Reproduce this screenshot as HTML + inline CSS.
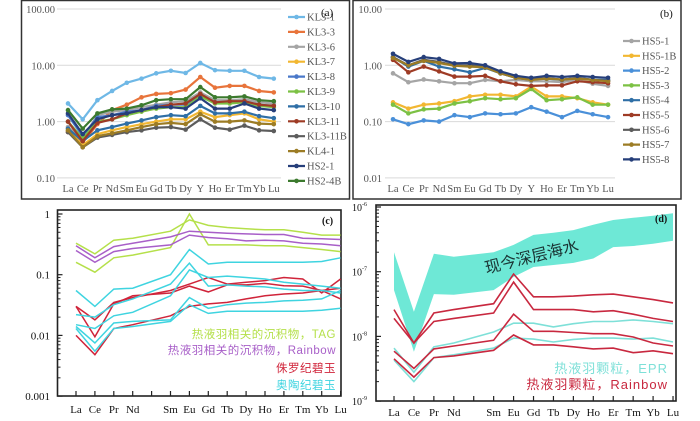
<!DOCTYPE html>
<html><head><meta charset="utf-8"><style>
html,body{margin:0;padding:0;background:#fff;}
svg{display:block;font-family:"Liberation Serif","Noto Serif CJK SC",serif;}
.cn{font-family:"Liberation Sans","Noto Sans CJK SC",sans-serif;}
</style></head><body>
<svg id="fig" width="700" height="421" viewBox="0 0 700 421" xmlns="http://www.w3.org/2000/svg">
<rect x="21.5" y="0.5" width="328" height="198.5" fill="#fff" stroke="#333" stroke-width="1.5"/>
<rect x="353" y="0.5" width="328" height="198.5" fill="#fff" stroke="#333" stroke-width="1.5"/>
<g id="pa"></g>
<g id="pb"></g>
<g id="pc"></g>
<g id="pd"></g>
</svg>
<script>
// ---------- data ----------
const catsAB = ["La","Ce","Pr","Nd","Sm","Eu","Gd","Tb","Dy","Y","Ho","Er","Tm","Yb","Lu"];
const ticksA = ["100.00","10.00","1.00","0.10"];
const ticksB = ["10.00","1.00","0.10","0.01"];
const namesA = ["KL3-1","KL3-3","KL3-6","KL3-7","KL3-8","KL3-9","KL3-10","KL3-11","KL3-11B","KL4-1","HS2-1","HS2-4B"];
const colorsA = ["#6fb8e6","#e8743b","#a5a5a5","#f2b731","#4a78c9","#7cc144","#2f6fa6","#9e3b25","#5c5c5c","#9c7c25","#263f7a","#3c7a2e"];
const kl31 = [2.1,1.1,2.4,3.5,4.9,5.8,7.2,8.0,7.3,11,8.2,8.0,8.0,6.2,5.8];
const kl33 = [0.65,0.42,0.9,1.6,2.0,2.7,3.1,3.2,3.7,6.2,4.0,4.3,4.3,3.5,3.3];
const kl36 = [0.8,0.5,1.3,1.5,1.6,1.8,2.0,2.2,2.3,3.3,2.4,2.4,2.5,2.2,2.1];
const kl37 = [0.7,0.38,0.6,0.7,0.8,0.9,1.0,1.1,1.1,1.5,1.2,1.3,1.4,1.1,1.0];
const kl38 = [1.3,0.55,1.2,1.3,1.5,1.6,1.9,2.0,2.0,3.0,2.2,2.2,2.3,2.0,1.9];
const kl39 = [1.0,0.5,1.0,1.1,1.3,1.5,1.7,1.8,1.8,2.8,2.1,2.1,2.2,1.9,1.8];
const kl310 = [0.75,0.45,0.7,0.8,0.92,1.05,1.2,1.3,1.25,1.9,1.4,1.4,1.5,1.25,1.15];
const kl311 = [1.0,0.45,0.95,1.1,1.4,1.6,1.8,2.0,2.1,3.1,2.2,2.3,2.3,2.0,1.9];
const kl311b = [0.65,0.35,0.52,0.58,0.65,0.7,0.78,0.8,0.72,1.1,0.78,0.72,0.85,0.7,0.68];
const kl41 = [0.7,0.35,0.55,0.62,0.7,0.8,0.9,0.95,0.9,1.35,1.0,1.0,1.05,0.92,0.9];
const hs21 = [1.4,0.6,1.1,1.3,1.4,1.6,1.8,1.8,1.7,2.6,1.7,1.7,2.1,1.7,1.6];
const hs24b = [1.6,0.75,1.4,1.65,1.7,1.95,2.4,2.5,2.5,4.1,2.7,2.7,2.8,2.4,2.3];
const seriesA = [kl31,kl33,kl36,kl37,kl38,kl39,kl310,kl311,kl311b,kl41,hs21,hs24b];

const namesB = ["HS5-1","HS5-1B","HS5-2","HS5-3","HS5-4","HS5-5","HS5-6","HS5-7","HS5-8"];
const colorsB = ["#a5a5a5","#f2b731","#4a90d9","#7cc144","#2f6fa6","#9e3b25","#5c5c5c","#9c7c25","#263f7a"];
const hs51 = [0.72,0.5,0.56,0.52,0.48,0.48,0.55,0.52,0.55,0.52,0.52,0.5,0.55,0.47,0.43];
const hs51b = [0.22,0.17,0.2,0.21,0.23,0.28,0.3,0.3,0.28,0.42,0.28,0.28,0.26,0.22,0.2];
const hs52 = [0.11,0.09,0.105,0.1,0.13,0.12,0.14,0.135,0.14,0.18,0.15,0.12,0.155,0.135,0.12];
const hs53 = [0.2,0.14,0.165,0.17,0.21,0.23,0.26,0.25,0.26,0.38,0.24,0.25,0.27,0.2,0.2];
const hs54 = [1.4,0.95,1.2,0.95,0.85,0.75,0.9,0.72,0.6,0.58,0.58,0.55,0.6,0.55,0.55];
const hs55 = [1.25,0.75,0.95,0.78,0.63,0.63,0.65,0.52,0.46,0.43,0.44,0.44,0.52,0.5,0.48];
const hs56 = [1.4,1.0,1.25,1.15,1.0,1.0,0.95,0.72,0.6,0.55,0.6,0.55,0.6,0.55,0.53];
const hs57 = [1.35,1.0,1.2,1.1,0.98,0.95,0.92,0.72,0.6,0.55,0.58,0.56,0.58,0.55,0.52];
const hs58 = [1.6,1.15,1.4,1.3,1.08,1.1,1.0,0.78,0.65,0.6,0.65,0.62,0.65,0.62,0.6];
const seriesB = [hs51,hs51b,hs52,hs53,hs54,hs55,hs56,hs57,hs58];

// panels c/d: 15 slots, Pm (index 4) empty
const catsCD = ["La","Ce","Pr","Nd","","Sm","Eu","Gd","Tb","Dy","Ho","Er","Tm","Yb","Lu"];
const ticksC = ["1","0.1","0.01","0.001"];
const tagA = [0.33,0.22,0.37,0.4,null,0.52,0.8,0.65,0.6,0.57,0.55,0.55,0.5,0.45,0.45];
const tagB = [0.16,0.11,0.19,0.21,null,0.28,1.0,0.31,0.31,0.31,0.3,0.3,0.28,0.26,0.24];
const rbA = [0.3,0.19,0.29,0.33,null,0.42,0.52,0.5,0.48,0.47,0.46,0.46,0.4,0.39,0.38];
const rbB = [0.25,0.16,0.24,0.27,null,0.31,0.45,0.41,0.39,0.36,0.37,0.36,0.33,0.32,0.3];
const juA = [0.03,0.018,0.035,0.042,null,0.055,0.07,0.09,0.07,0.075,0.08,0.09,0.085,0.05,0.085];
const juB = [0.03,0.0095,0.033,0.045,null,0.05,0.065,0.052,0.068,0.068,0.072,0.066,0.065,0.055,0.04];
const juC = [0.01,0.0048,0.013,0.015,null,0.021,0.03,0.033,0.035,0.04,0.045,0.048,0.05,0.055,0.06];
const orA = [0.055,0.03,0.058,0.06,null,0.1,0.26,0.15,0.16,0.16,0.16,0.16,0.16,0.165,0.19];
const orB = [0.022,0.02,0.032,0.04,null,0.07,0.155,0.065,0.068,0.065,0.063,0.058,0.055,0.055,0.05];
const orC = [0.015,0.013,0.021,0.024,null,0.045,0.12,0.09,0.095,0.09,0.085,0.075,0.07,0.065,0.06];
const orD = [0.014,0.0075,0.016,0.017,null,0.018,0.042,0.028,0.032,0.034,0.035,0.037,0.038,0.04,0.055];
const orE = [0.013,0.0055,0.013,0.014,null,0.017,0.032,0.023,0.025,0.025,0.025,0.025,0.025,0.026,0.028];

const ticksD = ["-6","-7","-8","-9"];
const swUpper = [2e-7,2.4e-8,1.9e-7,1.7e-7,null,2e-7,2.6e-7,3.7e-7,4e-7,4.4e-7,5.3e-7,6.3e-7,6.8e-7,7.3e-7,8e-7];
const swLower = [5.2e-8,5.8e-9,4.5e-8,4.4e-8,null,5.2e-8,8.3e-8,1.18e-7,1.27e-7,1.37e-7,1.6e-7,2.4e-7,2.5e-7,2.7e-7,3e-7];
const rpA = [2.6e-8,7.9e-9,2.3e-8,2.6e-8,null,3.2e-8,9.2e-8,4.1e-8,4.1e-8,4.2e-8,4.4e-8,4.5e-8,4.1e-8,3.7e-8,3.3e-8];
const rpB = [1.9e-8,7.9e-9,1.7e-8,1.9e-8,null,2.3e-8,6.9e-8,2.6e-8,2.6e-8,2.6e-8,2.4e-8,2.5e-8,2.2e-8,1.9e-8,1.7e-8];
const rpC = [5.9e-9,3.2e-9,6.4e-9,7.1e-9,null,8.7e-9,2.2e-8,1.2e-8,1.2e-8,1.15e-8,1.1e-8,1.1e-8,9.8e-9,7.9e-9,7.1e-9];
const rpD = [4.5e-9,2.35e-9,4.7e-9,5e-9,null,6.1e-9,1.05e-8,7.4e-9,7.4e-9,6.9e-9,6.4e-9,6.6e-9,5.6e-9,6e-9,5.4e-9];
const epA = [6.6e-9,2.8e-9,6.9e-9,7.9e-9,null,1.17e-8,1.6e-8,1.6e-8,1.4e-8,1.57e-8,1.7e-8,1.7e-8,1.8e-8,1.7e-8,1.57e-8];
const epB = [4.3e-9,2e-9,4.7e-9,5.2e-9,null,6.6e-9,9.4e-9,9.1e-9,8.2e-9,9e-9,9.4e-9,9.4e-9,9.1e-9,9.4e-9,8.2e-9];

// ---------- helpers ----------
const NS = "http://www.w3.org/2000/svg";
function mk(parent, tag, attrs, text){
  const e = document.createElementNS(NS, tag);
  for (const k in attrs) e.setAttribute(k, attrs[k]);
  if (text !== undefined) e.textContent = text;
  parent.appendChild(e);
  return e;
}
function logScale(topVal, yTop, pxPerDec){ return v => yTop + (Math.log10(topVal) - Math.log10(v)) * pxPerDec; }
function linX(x0, step){ return i => x0 + i*step; }
function pathFrom(vals, X, Y){
  let d = "", pen = false;
  vals.forEach((v,i)=>{ if (v==null) return; d += (pen?"L":"M") + X(i).toFixed(1) + "," + Y(v).toFixed(1); pen = true; });
  return d;
}

// ---------- panel a / b ----------
function drawAB(g, cats, ticks, topVal, names, colors, series, cfg){
  const Y = logScale(topVal, cfg.yTop, cfg.dec);
  const X = linX(cfg.x0, cfg.step);
  ticks.forEach((t,i)=>{
    const y = cfg.yTop + i*cfg.dec;
    const gl = mk(g,"line",{x1:cfg.gx0,x2:cfg.gx1,y1:y,y2:y,stroke:"#d9d9d9","stroke-width":1});
    
    
    const tl = mk(g,"text",{x:cfg.tickX,y:y+4,"text-anchor":"end","font-size":10.5,fill:"#555"},t);
    
    
  });
  cats.forEach((c,i)=>{
    const t = mk(g,"text",{x:X(i),y:cfg.catY,"text-anchor":"middle","font-size":10.5,fill:"#555"},c);
    
    
  });
  series.forEach((s,k)=>{
    const p = mk(g,"path",{d:pathFrom(s,X,Y),fill:"none",stroke:colors[k],"stroke-width":2.2});
    
    
    s.forEach((v,i)=>{
      const c = mk(g,"circle",{cx:X(i),cy:Y(v),r:2.3,fill:colors[k]});
      
      
    });
    const ly = cfg.legY + k*cfg.legStep;
    const lg = mk(g,"g",{});
    
    
    mk(lg,"line",{x1:cfg.legX,x2:cfg.legX+17,y1:ly,y2:ly,stroke:colors[k],"stroke-width":2.2});
    mk(lg,"circle",{cx:cfg.legX+8.5,cy:ly,r:2.3,fill:colors[k]});
    mk(lg,"text",{x:cfg.legX+19,y:ly+3.5,"font-size":10.5,fill:"#555"},names[k]);
  });
  const lab = mk(g,"text",{x:cfg.labX,y:cfg.labY,"font-size":11,fill:"#111"},cfg.label);
  
  
}
drawAB(document.getElementById("pa"), catsAB, ticksA, 100, namesA, colorsA, seriesA,
  {yTop:9,dec:56.3,x0:68,step:14.7,gx0:57,gx1:281,tickX:55,catY:192,legX:288,legY:17,legStep:14.9,labX:321,labY:16,label:"(a)"});
drawAB(document.getElementById("pb"), catsAB, ticksB, 10, namesB, colorsB, seriesB,
  {yTop:9,dec:56.3,x0:393,step:15.36,gx0:385,gx1:615,tickX:382,catY:192,legX:623,legY:41,legStep:14.8,labX:660,labY:17,label:"(b)"});

// ---------- panel c ----------
(function(){
  const g = document.getElementById("pc");
  const left=57.5,right=341,top=210,bot=396;
  const Y = logScale(1, 214, 60.7);
  const X = linX(76, 18.9);
  const fr = mk(g,"rect",{x:left,y:top,width:right-left,height:bot-top,fill:"none",stroke:"#222","stroke-width":1.6});
  
  
  ticksC.forEach((t,i)=>{
    const v = parseFloat(t);
    const tl = mk(g,"text",{x:50,y:Y(v)+4,"text-anchor":"end","font-size":11,fill:"#111"},t);
    
    
    mk(g,"line",{x1:left,x2:left+5,y1:Y(v),y2:Y(v),stroke:"#222","stroke-width":1.2});
    if (i<3) for (let m=2;m<10;m++){ const yy=Y(v/10*m); mk(g,"line",{x1:left,x2:left+3,y1:yy,y2:yy,stroke:"#222","stroke-width":1}); }
  });
  catsCD.forEach((c,i)=>{
    mk(g,"line",{x1:X(i),x2:X(i),y1:bot,y2:bot-5,stroke:"#222","stroke-width":1.2});
    if (c){ const t = mk(g,"text",{x:X(i),y:413,"text-anchor":"middle","font-size":11,fill:"#111"},c);
      
       }
  });
  const groups = [[tagA,"#b5e04a"],[tagB,"#b5e04a"],[rbA,"#a85fc8"],[rbB,"#a85fc8"],[juA,"#d0243a"],[juB,"#d0243a"],[juC,"#d0243a"],[orA,"#3fd4e0"],[orB,"#3fd4e0"],[orC,"#3fd4e0"],[orD,"#3fd4e0"],[orE,"#3fd4e0"]];
  groups.forEach(([s,col])=>{
    const p = mk(g,"path",{d:pathFrom(s,X,Y),fill:"none",stroke:col,"stroke-width":1.5});
    
    
  });
  const labs = [["热液羽相关的沉积物，TAG","#b5e04a",338],["热液羽相关的沉积物，Rainbow","#a85fc8",354],["侏罗纪碧玉","#d0243a",372],["奥陶纪碧玉","#3fd4e0",389]];
  labs.forEach(([t,c,y])=>{
    const e = mk(g,"text",{x:336,y:y,"text-anchor":"end","font-size":11.5,fill:c,"class":"cn","letter-spacing":"0.5"},t);
    
    
  });
  const lab = mk(g,"text",{x:322,y:224,"font-size":10,fill:"#111","font-weight":"bold"},"(c)");
  
  
})();

// ---------- panel d ----------
(function(){
  const g = document.getElementById("pd");
  const left=376,right=676,top=205,bot=401;
  const Y = logScale(1e-6, 207, 64.7);
  const X = linX(394, 19.93);
  let d = "";
  const idx = swUpper.map((v,i)=>v==null?null:i).filter(i=>i!=null);
  idx.forEach((i,k)=>{ d += (k?"L":"M") + X(i).toFixed(1)+","+Y(swUpper[i]).toFixed(1); });
  idx.slice().reverse().forEach(i=>{ d += "L" + X(i).toFixed(1)+","+Y(swLower[i]).toFixed(1); });
  const band = mk(g,"path",{d:d+"Z",fill:"#6ee8d6"});
  
  
  const bt = mk(g,"text",{x:0,y:0,"font-size":16,fill:"#1a3434","class":"cn","text-anchor":"middle",transform:"translate(533,262) rotate(-14)"},"现今深层海水");
  
  
  const fr = mk(g,"rect",{x:left,y:top,width:right-left,height:bot-top,fill:"none",stroke:"#222","stroke-width":1.6});
  
  
  ticksD.forEach((t,i)=>{
    const v = Math.pow(10, parseFloat(t));
    const y = Y(v);
    const tl = mk(g,"text",{x:352,y:y+4,"font-size":10,fill:"#111"});
    
    
    mk(tl,"tspan",{},"10");
    mk(tl,"tspan",{dy:-5,"font-size":6},t);
    mk(g,"line",{x1:left,x2:left+5,y1:y,y2:y,stroke:"#222","stroke-width":1.2});
    if (i<3) for (let m=2;m<10;m++){ const yy=Y(v/10*m); mk(g,"line",{x1:left,x2:left+3,y1:yy,y2:yy,stroke:"#222","stroke-width":1}); }
  });
  catsCD.forEach((c,i)=>{
    mk(g,"line",{x1:X(i),x2:X(i),y1:bot,y2:bot-5,stroke:"#222","stroke-width":1.2});
    if (c){ const t = mk(g,"text",{x:X(i),y:416,"text-anchor":"middle","font-size":11,fill:"#111"},c);
      
       }
  });
  [[epA,"#7ee0d8"],[epB,"#7ee0d8"],[rpA,"#c8283f"],[rpB,"#c8283f"],[rpC,"#c8283f"],[rpD,"#c8283f"]].forEach(([s,col])=>{
    const p = mk(g,"path",{d:pathFrom(s,X,Y),fill:"none",stroke:col,"stroke-width":1.6});
    
    
  });
  const l1 = mk(g,"text",{x:668,y:373,"text-anchor":"end","font-size":13,fill:"#7ee0d8","class":"cn","letter-spacing":"1"},"热液羽颗粒，EPR");
  
  
  const l2 = mk(g,"text",{x:668,y:389,"text-anchor":"end","font-size":13,fill:"#c8283f","class":"cn","letter-spacing":"1"},"热液羽颗粒，Rainbow");
  
  
  const lab = mk(g,"text",{x:655,y:222,"font-size":10,fill:"#111","font-weight":"bold"},"(d)");
  
  
})();
</script>
</body></html>
